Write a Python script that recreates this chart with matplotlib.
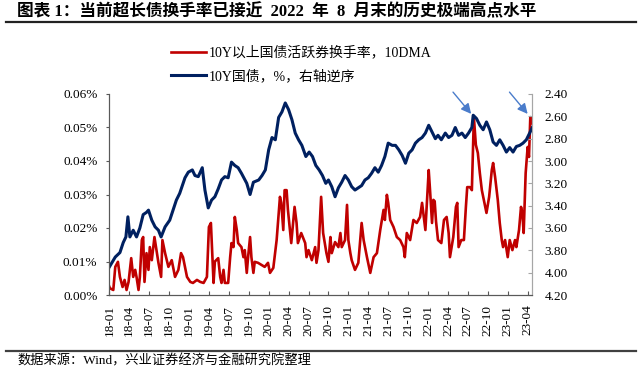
import matplotlib
matplotlib.use('Agg')
import matplotlib.pyplot as plt
import numpy as np
from matplotlib.lines import Line2D
from matplotlib.ticker import FuncFormatter

plt.rcParams['font.family'] = ['Liberation Serif', 'Noto Sans CJK SC']

# months since 2018-01
red_month = [0.0, 0.1, 0.6, 0.9, 1.3, 1.6, 2.0, 2.3, 2.6, 2.9, 3.3, 3.6, 3.9, 4.1, 4.4, 4.6,
             4.9, 5.1, 5.3, 5.6, 5.9, 6.1, 6.4, 6.8, 7.1, 7.4, 7.8, 8.0, 8.4, 8.9, 9.4, 9.9,
             10.4, 10.8, 11.1, 11.7, 12.2, 12.6, 13.2, 13.7, 14.2, 14.7, 15.0, 15.3, 15.7,
             15.9, 16.4, 16.7, 16.9, 17.2, 17.4, 17.9, 18.2, 18.4, 18.7, 18.9, 19.2, 19.4,
             19.9, 20.2, 20.4, 20.7, 20.9, 21.2, 21.4, 21.7, 21.9, 22.4, 22.9, 23.4, 23.9,
             24.2, 24.7, 25.2, 25.7, 25.9, 26.2, 26.4, 26.7, 26.9, 27.2, 27.4, 27.9, 28.2,
             28.4, 28.9, 29.5, 29.7, 30.0, 30.5, 31.0, 31.2, 31.5, 31.9, 32.2, 32.5, 32.7,
             33.0, 33.3, 33.5, 34.0, 34.5, 34.8, 35.0, 35.5, 35.8, 36.0, 36.3, 36.5, 37.0,
             37.5, 38.0, 38.3, 38.8, 39.3, 39.8, 40.3, 40.8, 41.3, 41.5, 41.8, 42.0, 42.3,
             42.8, 43.3, 43.8, 44.3, 44.5, 44.8, 45.3, 45.8, 46.3, 46.8, 47.1, 47.6, 48.1,
             48.3, 48.6, 48.8, 49.0, 49.2, 49.5, 50.0, 50.4, 50.8, 51.1, 51.3, 51.8, 52.2,
             52.4, 52.6, 53.0, 53.4, 53.7, 53.9, 54.3, 54.6, 54.9, 55.2, 55.5, 55.8, 56.1,
             56.5, 56.8, 57.2, 57.6, 57.8, 58.1, 58.5, 58.8, 59.1, 59.3, 59.6, 60.0, 60.3,
             60.7, 61.1, 61.3, 61.7, 62.0, 62.2, 62.4, 62.7, 63.0, 63.2, 63.4, 63.6, 63.7]
red_value = [0.0025, 0.0020, 0.0015, 0.0084, 0.0099, 0.0054, 0.0024, 0.0045, 0.0015, 0.0039,
             0.0110, 0.0054, 0.0075, 0.0054, 0.0015, 0.0054, 0.0164, 0.0173, 0.0039, 0.0125,
             0.0075, 0.0143, 0.0104, 0.0173, 0.0134, 0.0096, 0.0054, 0.0164, 0.0125, 0.0084,
             0.0104, 0.0054, 0.0075, 0.0125, 0.0113, 0.0054, 0.0039, 0.0036, 0.0045, 0.0039,
             0.0036, 0.0054, 0.0203, 0.0215, 0.0036, 0.0100, 0.0110, 0.0054, 0.0036, 0.0075,
             0.0036, 0.0036, 0.0113, 0.0155, 0.0143, 0.0233, 0.0194, 0.0155, 0.0143, 0.0113,
             0.0134, 0.0066, 0.0113, 0.0173, 0.0113, 0.0066, 0.0099, 0.0096, 0.0090, 0.0084,
             0.0096, 0.0066, 0.0081, 0.0164, 0.0293, 0.0275, 0.0194, 0.0313, 0.0313, 0.0254,
             0.0194, 0.0155, 0.0263, 0.0215, 0.0155, 0.0185, 0.0155, 0.0113, 0.0134, 0.0104,
             0.0143, 0.0096, 0.0134, 0.0293, 0.0185, 0.0150, 0.0125, 0.0099, 0.0173, 0.0125,
             0.0158, 0.0143, 0.0185, 0.0143, 0.0164, 0.0269, 0.0164, 0.0125, 0.0104, 0.0075,
             0.0096, 0.0215, 0.0164, 0.0113, 0.0066, 0.0113, 0.0125, 0.0194, 0.0254, 0.0224,
             0.0299, 0.0275, 0.0224, 0.0203, 0.0173, 0.0164, 0.0143, 0.0113, 0.0185, 0.0164,
             0.0224, 0.0215, 0.0233, 0.0275, 0.0194, 0.0373, 0.0313, 0.0215, 0.0284, 0.0280,
             0.0220, 0.0164, 0.0155, 0.0224, 0.0233, 0.0185, 0.0113, 0.0173, 0.0263, 0.0275,
             0.0143, 0.0164, 0.0164, 0.0263, 0.0322, 0.0322, 0.0313, 0.0531, 0.0448, 0.0424,
             0.0364, 0.0313, 0.0275, 0.0245, 0.0293, 0.0373, 0.0394, 0.0352, 0.0284, 0.0215,
             0.0164, 0.0143, 0.0164, 0.0113, 0.0164, 0.0134, 0.0164, 0.0143, 0.0194, 0.0263,
             0.0245, 0.0185, 0.0364, 0.0442, 0.0412, 0.0531, 0.0522, 0.0513]

blue_month = [0.0, 0.9, 1.6, 2.1, 2.5, 2.8, 3.1, 3.6, 4.1, 4.6, 5.1, 5.6, 5.9, 6.4, 6.9, 7.4,
              7.8, 8.4, 9.1, 9.6, 10.1, 10.6, 11.4, 11.9, 12.5, 12.9, 13.4, 14.0, 14.4, 14.9,
              15.4, 15.9, 16.4, 16.9, 17.4, 17.9, 18.4, 18.9, 19.4, 19.9, 20.7, 21.2, 21.7,
              22.5, 23.0, 23.5, 24.0, 24.5, 25.0, 25.5, 26.0, 26.5, 27.0, 27.5, 28.0, 28.5,
              29.0, 29.6, 30.1, 30.6, 31.1, 31.6, 32.1, 32.6, 33.0, 33.5, 34.0, 34.5, 35.0,
              35.5, 36.0, 36.5, 37.0, 37.5, 38.0, 38.5, 39.0, 39.5, 40.0, 40.5, 41.0, 41.5,
              42.0, 42.6, 43.1, 43.6, 44.1, 44.6, 45.1, 45.6, 46.1, 46.6, 47.1, 47.6, 48.1,
              48.6, 49.1, 49.5, 50.0, 50.6, 51.1, 51.6, 52.1, 52.6, 53.1, 53.6, 54.1, 54.6,
              54.8, 55.3, 55.8, 56.3, 56.8, 57.3, 57.8, 58.3, 58.8, 59.3, 59.8, 60.3, 60.8,
              61.3, 61.8, 62.3, 62.8, 63.3, 63.7]
blue_value = [3.95, 3.86, 3.82, 3.73, 3.68, 3.50, 3.68, 3.62, 3.68, 3.60, 3.48, 3.46, 3.44,
              3.53, 3.59, 3.62, 3.68, 3.59, 3.53, 3.44, 3.35, 3.29, 3.15, 3.10, 3.08, 3.13,
              3.14, 3.06, 3.26, 3.42, 3.35, 3.32, 3.25, 3.17, 3.14, 3.15, 3.01, 3.04, 3.06,
              3.11, 3.20, 3.30, 3.19, 3.17, 3.13, 3.08, 2.90, 2.79, 2.81, 2.61, 2.56, 2.48,
              2.54, 2.63, 2.75, 2.81, 2.86, 2.96, 2.92, 2.96, 3.04, 3.08, 3.13, 3.20, 3.17,
              3.23, 3.32, 3.24, 3.19, 3.13, 3.17, 3.23, 3.26, 3.24, 3.22, 3.17, 3.15, 3.11,
              3.06, 3.10, 3.04, 2.96, 2.84, 2.86, 2.86, 2.90, 2.95, 3.02, 2.93, 2.90, 2.84,
              2.81, 2.79, 2.75, 2.68, 2.74, 2.80, 2.77, 2.81, 2.75, 2.79, 2.77, 2.70, 2.77,
              2.75, 2.79, 2.75, 2.70, 2.59, 2.62, 2.68, 2.72, 2.65, 2.72, 2.83, 2.86, 2.81,
              2.86, 2.92, 2.88, 2.92, 2.87, 2.86, 2.84, 2.81, 2.75, 2.70]

tick_labels = ['18-01', '18-04', '18-07', '18-10', '19-01', '19-04', '19-07', '19-10',
               '20-01', '20-04', '20-07', '20-10', '21-01', '21-04', '21-07', '21-10',
               '22-01', '22-04', '22-07', '22-10', '23-01', '23-04']
left_ticks = [0.0, 0.01, 0.02, 0.03, 0.04, 0.05, 0.06]
right_ticks = [2.4, 2.6, 2.8, 3.0, 3.2, 3.4, 3.6, 3.8, 4.0, 4.2]

red_label = '10Y以上国债活跃券换手率，10DMA'
blue_label = '10Y国债，%，右轴逆序'
title = '图表 1：当前超长债换手率已接近  2022  年  8  月末的历史极端高点水平'
source = '数据来源：Wind，兴业证券经济与金融研究院整理'

fig = plt.figure(figsize=(6.4, 3.72), dpi=100)
ax = fig.add_axes([109.3 / 640, 1 - 295 / 372, 423 / 640, 201 / 372])
ax2 = ax.twinx()

l1, = ax.plot(red_month, red_value, color='#C00000', lw=1.9, label=red_label)
l2, = ax2.plot(blue_month, blue_value, color='#002060', lw=2.2, label=blue_label)

ax.set_xlim(0, red_month[-1])
ax.set_ylim(0, 0.06)
ax.set_yticks(left_ticks)
ax.yaxis.set_major_formatter(FuncFormatter(lambda v, p: f'{v:.2f}%'))
ax.set_xticks(np.arange(len(tick_labels)) * 3)
ax.set_xticklabels(tick_labels, rotation=90)

ax2.set_ylim(4.2, 2.4)
ax2.set_yticks(right_ticks)
ax2.yaxis.set_major_formatter(FuncFormatter(lambda v, p: f'{v:.2f}'))

for a in (ax, ax2):
    a.spines['top'].set_visible(False)
    a.spines['left'].set_color('#595959')
    a.spines['bottom'].set_color('#595959')
    a.spines['right'].set_color('#A6A6A6')
ax.tick_params(axis='y', direction='out', length=2.5, color='#595959', labelsize=9.5, pad=6)
ax.tick_params(axis='x', direction='in', length=3, color='#595959', labelsize=9.5, pad=7)
ax2.tick_params(axis='y', direction='in', length=3, color='#A6A6A6', labelsize=9.5, pad=9)

# arrows pointing to the two turnover peaks
r = np.array(red_value)
m = np.array(red_month)
for sel in (m < 60, m >= 60):
    i = np.argmax(np.where(sel, r, -1))
    ax.annotate('', xy=(m[i], r[i]), xytext=(-15, 18), textcoords='offset points',
                annotation_clip=False,
                arrowprops=dict(arrowstyle='-|>,head_length=0.6,head_width=0.3',
                                color='#4A7CCB', lw=1.0, shrinkA=0, shrinkB=3))

fig.legend([l1, l2], [red_label, blue_label], loc='center left',
           bbox_to_anchor=(171 / 640, 1 - 64.5 / 372), frameon=False, fontsize=10,
           handlelength=2.5, handletextpad=0.2, labelspacing=0.7, borderpad=0,
           borderaxespad=0)

fig.text(17 / 640, 1 - 12 / 372, title, fontsize=12, fontweight='bold',
         va='center', ha='left')
fig.add_artist(Line2D([6 / 640, 636 / 640], [1 - 22 / 372] * 2, color='#222222', lw=1.6))
fig.add_artist(Line2D([6 / 640, 636 / 640], [1 - 351 / 372] * 2, color='#404040', lw=1.6))
fig.text(17 / 640, 1 - 361 / 372, source, fontsize=9.5, va='center', ha='left')

fig.savefig('out.png', dpi=100)
plt.close(fig)
